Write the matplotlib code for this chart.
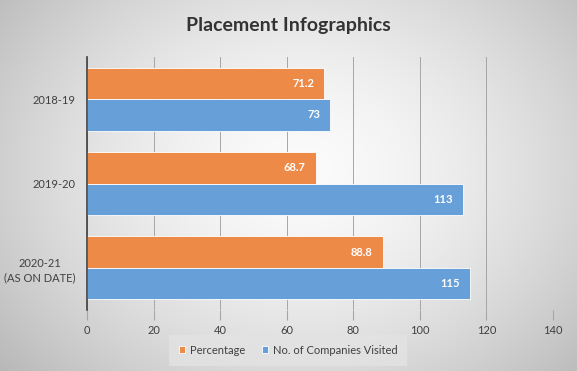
import numpy as np
import matplotlib
matplotlib.use("Agg")
import matplotlib.pyplot as plt

categories = ["2018-19", "2019-20", "2020-21\n(AS ON DATE)"]
percentage = [71.2, 68.7, 88.8]
companies = [73, 113, 115]
xticks = [0, 20, 40, 60, 80, 100, 120, 140]

plt.rcParams['font.family'] = ['Lato', 'DejaVu Sans']

fig = plt.figure(figsize=(5.77, 3.71), dpi=100)

# radial gradient background
bg = fig.add_axes([0, 0, 1, 1], zorder=-10)
yy, xx = np.mgrid[0:371, 0:577]
cx, cy = 300, 170
r = np.sqrt(((xx - cx) / 330.0) ** 2 + ((yy - cy) / 260.0) ** 2)
r = np.clip(r, 0, 1.2)
v = 0.985 - 0.2 * r ** 1.6
img = np.dstack([v, v, v])
bg.imshow(np.clip(img, 0, 1), aspect='auto', extent=[0, 1, 0, 1])
bg.axis('off')

ax = fig.add_axes([87 / 577, 1 - 310 / 371, (553 - 87) / 577, (310 - 57) / 371])
ax.patch.set_alpha(0)

y = np.arange(len(categories))
h = 0.375
orange = '#EE8A48'
blue = '#67A0D8'
b1 = ax.barh(y - h / 2, percentage, height=h, color=orange, edgecolor='white', linewidth=0.6, zorder=3, label='Percentage')
b2 = ax.barh(y + h / 2, companies, height=h, color=blue, edgecolor='white', linewidth=0.6, zorder=3, label='No. of Companies Visited')

for bars, vals in ((b1, percentage), (b2, companies)):
    for rect, val in zip(bars, vals):
        ax.text(rect.get_width() - 3, rect.get_y() + rect.get_height() / 2, f"{val:g}",
                ha='right', va='center', color='white', fontsize=8, fontweight='bold', zorder=4)

ax.set_xlim(0, 140)
ax.set_ylim(2.5, -0.5)
ax.set_xticks(xticks)
ax.set_yticks(y)
ax.set_yticklabels(categories, fontsize=8, color='#404040', multialignment='center', linespacing=1.4)
ax.tick_params(axis='y', length=0, pad=8)
ax.tick_params(axis='x', labelsize=8, labelcolor='#404040', length=7, color='#a6a6a6', pad=4)
ax.grid(axis='x', color='#a6a6a6', linewidth=0.7, zorder=0)
for s in ['top', 'right', 'bottom']:
    ax.spines[s].set_visible(False)
ax.spines['left'].set_color('#404040')
ax.spines['left'].set_linewidth(1.2)
ax.spines['left'].set_zorder(5)

fig.text(0.5, 1 - 25 / 371, "Placement Infographics", ha='center', va='center',
         fontsize=14, fontweight='bold', color='#333333')

leg = fig.legend(handles=[b1, b2], loc='center', bbox_to_anchor=(288 / 577, 1 - 350 / 371),
                 ncol=2, frameon=True, fontsize=8, handlelength=0.6, handleheight=0.6,
                 columnspacing=1.5, handletextpad=0.4, borderpad=0.6)
leg.get_frame().set_facecolor('#e3e3e3')
leg.get_frame().set_edgecolor('none')
leg.get_frame().set_boxstyle('square', pad=0.3)
for t in leg.get_texts():
    t.set_color('#404040')

fig.savefig("out.png", dpi=100)
